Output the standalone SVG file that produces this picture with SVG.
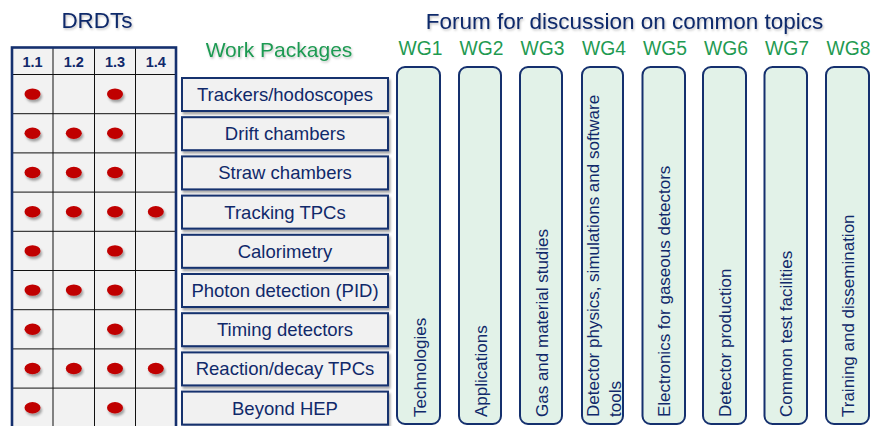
<svg xmlns="http://www.w3.org/2000/svg" width="875" height="426" viewBox="0 0 875 426">
<defs>
<filter id="sh" x="-20%" y="-20%" width="140%" height="160%">
<feDropShadow dx="1.5" dy="2.5" stdDeviation="1.2" flood-color="#000" flood-opacity="0.35"/>
</filter>
<filter id="tsh" x="-10%" y="-20%" width="120%" height="150%">
<feDropShadow dx="1" dy="1.5" stdDeviation="1" flood-color="#000" flood-opacity="0.25"/>
</filter>
<ellipse id="dot" cx="0" cy="0" rx="8" ry="5.7" fill="#c00000" filter="url(#sh)"/>
</defs>
<style>
text{font-family:"Liberation Sans",Arial,sans-serif}
.title{font-size:22.5px;fill:#10296a}
.green{fill:#1f9a52}
.wgbox text.wg{font-size:19.3px;fill:#1f9a52;text-anchor:middle}
.hdr{font-size:14.5px;font-weight:bold;fill:#10296a;text-anchor:middle}
.wp rect{fill:#f1f1f1;stroke:#15306e;stroke-width:2}
.wp text{font-size:18.5px;fill:#10296a;text-anchor:middle}
.wgbox rect{fill:#e2f2e8;stroke:#15306e;stroke-width:2}
.wgbox text{font-size:17px;fill:#10296a}
.grid line{stroke:#111;stroke-width:1}
</style>

<text class="title" x="97" y="28" text-anchor="middle" filter="url(#tsh)">DRDTs</text>
<text class="title" x="624.5" y="29" text-anchor="middle" font-size="23px" filter="url(#tsh)">Forum for discussion on common topics</text>
<text class="green" x="279" y="57" text-anchor="middle" font-size="21px" filter="url(#tsh)">Work Packages</text>

<g id="drdt-table">
<rect x="12" y="47.5" width="164" height="385" fill="#f2f2f2"/>
<g class="grid">
<line x1="53" y1="47.5" x2="53" y2="432"/>
<line x1="94.5" y1="47.5" x2="94.5" y2="432"/>
<line x1="135.5" y1="47.5" x2="135.5" y2="432"/>
<line x1="12" y1="74.5" x2="176" y2="74.5" stroke-width="2.3"/>
<line x1="12" y1="113.7" x2="176" y2="113.7"/>
<line x1="12" y1="152.9" x2="176" y2="152.9"/>
<line x1="12" y1="192.1" x2="176" y2="192.1"/>
<line x1="12" y1="231.3" x2="176" y2="231.3"/>
<line x1="12" y1="270.5" x2="176" y2="270.5"/>
<line x1="12" y1="309.7" x2="176" y2="309.7"/>
<line x1="12" y1="348.9" x2="176" y2="348.9"/>
<line x1="12" y1="388.1" x2="176" y2="388.1"/>
</g>
<rect x="12" y="47.5" width="164" height="385" fill="none" stroke="#15306e" stroke-width="2.6"/>
<text class="hdr" x="32.5" y="66.5">1.1</text>
<text class="hdr" x="73.8" y="66.5">1.2</text>
<text class="hdr" x="115" y="66.5">1.3</text>
<text class="hdr" x="155.8" y="66.5">1.4</text>
<use href="#dot" x="32.5" y="94.1"/><use href="#dot" x="115" y="94.1"/>
<use href="#dot" x="32.5" y="133.3"/><use href="#dot" x="73.8" y="133.3"/><use href="#dot" x="115" y="133.3"/>
<use href="#dot" x="32.5" y="172.5"/><use href="#dot" x="73.8" y="172.5"/><use href="#dot" x="115" y="172.5"/>
<use href="#dot" x="32.5" y="211.7"/><use href="#dot" x="73.8" y="211.7"/><use href="#dot" x="115" y="211.7"/><use href="#dot" x="155.8" y="211.7"/>
<use href="#dot" x="32.5" y="250.9"/><use href="#dot" x="115" y="250.9"/>
<use href="#dot" x="32.5" y="290.1"/><use href="#dot" x="73.8" y="290.1"/><use href="#dot" x="115" y="290.1"/>
<use href="#dot" x="32.5" y="329.3"/><use href="#dot" x="115" y="329.3"/>
<use href="#dot" x="32.5" y="368.5"/><use href="#dot" x="73.8" y="368.5"/><use href="#dot" x="115" y="368.5"/><use href="#dot" x="155.8" y="368.5"/>
<use href="#dot" x="32.5" y="407.7"/><use href="#dot" x="115" y="407.7"/>
</g>

<g id="wp-trackers" class="wp"><rect x="182" y="78" width="206" height="33" filter="url(#sh)"/><text x="285" y="101">Trackers/hodoscopes</text></g>
<g id="wp-drift" class="wp"><rect x="182" y="117.2" width="206" height="33" filter="url(#sh)"/><text x="285" y="140.2">Drift chambers</text></g>
<g id="wp-straw" class="wp"><rect x="182" y="156.4" width="206" height="33" filter="url(#sh)"/><text x="285" y="179.4">Straw chambers</text></g>
<g id="wp-tpc" class="wp"><rect x="182" y="195.6" width="206" height="33" filter="url(#sh)"/><text x="285" y="218.6">Tracking TPCs</text></g>
<g id="wp-calo" class="wp"><rect x="182" y="234.8" width="206" height="33" filter="url(#sh)"/><text x="285" y="257.8">Calorimetry</text></g>
<g id="wp-photon" class="wp"><rect x="182" y="274" width="206" height="33" filter="url(#sh)"/><text x="285" y="297">Photon detection (PID)</text></g>
<g id="wp-timing" class="wp"><rect x="182" y="313.2" width="206" height="33" filter="url(#sh)"/><text x="285" y="336.2">Timing detectors</text></g>
<g id="wp-reaction" class="wp"><rect x="182" y="352.4" width="206" height="33" filter="url(#sh)"/><text x="285" y="375.4">Reaction/decay TPCs</text></g>
<g id="wp-beyond" class="wp"><rect x="182" y="391.6" width="206" height="33" filter="url(#sh)"/><text x="285" y="414.6">Beyond HEP</text></g>

<g id="wg1" class="wgbox"><text class="wg" x="420.5" y="55">WG1</text><rect x="397" y="67" width="43" height="357" rx="8"/><text transform="translate(425.5,417) rotate(-90)">Technologies</text></g>
<g id="wg2" class="wgbox"><text class="wg" x="481.5" y="55">WG2</text><rect x="459" y="67" width="42" height="357" rx="8"/><text transform="translate(487,417) rotate(-90)">Applications</text></g>
<g id="wg3" class="wgbox"><text class="wg" x="542.5" y="55">WG3</text><rect x="520" y="67" width="42" height="357" rx="8"/><text transform="translate(548,417) rotate(-90)">Gas and material studies</text></g>
<g id="wg4" class="wgbox"><text class="wg" x="604" y="55">WG4</text><rect x="582" y="67" width="41" height="357" rx="8"/><text transform="translate(598.5,417) rotate(-90)">Detector physics,  simulations and software</text><text transform="translate(620.5,417) rotate(-90)">tools</text></g>
<g id="wg5" class="wgbox"><text class="wg" x="665" y="55">WG5</text><rect x="642.5" y="67" width="42.5" height="357" rx="8"/><text transform="translate(670,417) rotate(-90)">Electronics for gaseous detectors</text></g>
<g id="wg6" class="wgbox"><text class="wg" x="726" y="55">WG6</text><rect x="703" y="67" width="43" height="357" rx="8"/><text transform="translate(731,417) rotate(-90)">Detector production</text></g>
<g id="wg7" class="wgbox"><text class="wg" x="787" y="55">WG7</text><rect x="764.5" y="67" width="42.5" height="357" rx="8"/><text transform="translate(792,417) rotate(-90)">Common test facilities</text></g>
<g id="wg8" class="wgbox"><text class="wg" x="848.5" y="55">WG8</text><rect x="826" y="67" width="43" height="357" rx="8"/><text transform="translate(853.5,417) rotate(-90)">Training and dissemination</text></g>

<g id="connectors"></g>
</svg>
